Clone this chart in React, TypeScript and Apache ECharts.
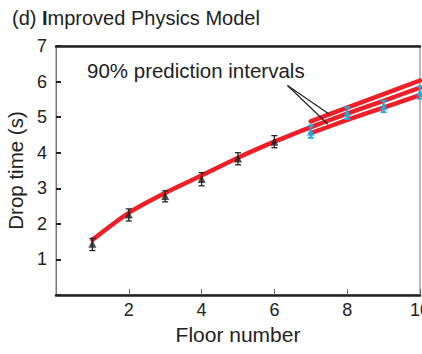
import React, { useEffect, useRef } from "react";
import * as echarts from "echarts";

// Measured drop times (black) for floors 1-6
const floors = [1, 2, 3, 4, 5, 6];
const measured = [1.44, 2.26, 2.78, 3.26, 3.84, 4.31];
const measuredLow = [1.25, 2.08, 2.62, 3.07, 3.66, 4.14];
const measuredHigh = [1.59, 2.42, 2.93, 3.44, 4.0, 4.48];

// Observed drop times (blue) for floors 7-10
const testFloors = [7, 8, 9, 10];
const observed = [4.59, 5.12, 5.31, 5.69];
const observedLow = [4.42, 4.95, 5.14, 5.52];
const observedHigh = [4.76, 5.28, 5.46, 5.86];

// Fitted model curve (floors 1-7)
const fitFloors = [1, 2, 3, 4, 5, 6, 7];
const fitValues = [1.55, 2.31, 2.87, 3.36, 3.86, 4.31, 4.72];

// Prediction and 90% prediction interval (floors 7-10)
const predCenter = [4.72, 5.1, 5.46, 5.83];
const predUpper = [4.88, 5.27, 5.65, 6.03];
const predLower = [4.55, 4.92, 5.27, 5.62];

// Annotation pointer lines (data coordinates)
const pointerA = [[6.36, 5.89], [7.5, 5.09]];
const pointerB = [[6.36, 5.89], [7.47, 4.8]];

const xTicks = [2, 4, 6, 8, 10];
const yTicks = [1, 2, 3, 4, 5, 6, 7];

const RED = "#ee1f26";
const BLUE = "#27a8e0";
const FONT = "Liberation Sans, Arial, sans-serif";

function errorBarSeries(xs: number[], lo: number[], hi: number[], color: string, w: number) {
  return {
    type: "custom",
    data: xs.map((x, i) => [x, lo[i], hi[i]]),
    z: 5,
    renderItem: (params: any, api: any) => {
      const x = api.value(0);
      const top = api.coord([x, api.value(2)]);
      const bot = api.coord([x, api.value(1)]);
      const cw = 3;
      const style = { stroke: color, lineWidth: w };
      return {
        type: "group",
        children: [
          { type: "line", shape: { x1: top[0], y1: top[1], x2: bot[0], y2: bot[1] }, style },
          { type: "line", shape: { x1: top[0] - cw, y1: top[1], x2: top[0] + cw, y2: top[1] }, style },
          { type: "line", shape: { x1: bot[0] - cw, y1: bot[1], x2: bot[0] + cw, y2: bot[1] }, style },
        ],
      };
    },
  };
}

function redLine(xs: number[], ys: number[], smooth: number) {
  return {
    type: "line",
    data: xs.map((x, i) => [x, ys[i]]),
    symbol: "none",
    smooth,
    lineStyle: { color: RED, width: 4.5, cap: "round" },
    z: 3,
  };
}

export default function App() {
  const ref = useRef<HTMLDivElement>(null);
  useEffect(() => {
    if (!ref.current) return;
    const chart = echarts.init(ref.current, undefined, { renderer: "svg" });
    chart.setOption({
      animation: false,
      textStyle: { fontFamily: FONT },
      grid: {
        left: 56,
        right: 2,
        top: 46,
        bottom: 59,
        outerBoundsMode: "none",
        containLabel: false,
        show: true,
        borderColor: "#777",
        borderWidth: 1,
        backgroundColor: "transparent",
      },
      title: {
        text: "(d) {b|I}mproved Physics Model",
        left: 7,
        top: 3,
        textStyle: {
          fontFamily: FONT,
          fontSize: 20,
          fontWeight: "normal",
          color: "#222",
          rich: { b: { fontFamily: FONT, fontSize: 20, fontWeight: "bold", color: "#222" } },
        },
      },
      graphic: [
        {
          type: "text",
          left: 87,
          top: 60,
          style: { text: "90% prediction intervals", fontFamily: FONT, fontSize: 20.5, fill: "#222" },
        },
      ],
      xAxis: [
        {
          type: "value",
          min: 0,
          max: 10,
          interval: 2,
          name: "Floor number",
          nameLocation: "middle",
          nameGap: 15,
          nameTextStyle: { fontFamily: FONT, fontSize: 21, color: "#222", verticalAlign: "top" },
          axisLine: { show: true, lineStyle: { color: "#222", width: 2.5 } },
          axisTick: { show: true, inside: true, length: 6, lineStyle: { color: "#666", width: 1 } },
          axisLabel: {
            fontFamily: FONT,
            fontSize: 18,
            color: "#222",
            margin: 6,
            showMinLabel: false,
            formatter: (v: number) => (xTicks.includes(v) ? String(v) : ""),
          },
          splitLine: { show: false },
        },
        {
          type: "value",
          position: "top",
          min: 0,
          max: 10,
          axisLine: { show: true, lineStyle: { color: "#222", width: 2.5 } },
          axisTick: { show: false },
          axisLabel: { show: false },
          splitLine: { show: false },
        },
      ],
      yAxis: {
        type: "value",
        min: 0,
        max: 7,
        interval: 1,
        name: "Drop time (s)",
        nameLocation: "middle",
        nameGap: 27,
        nameTextStyle: { fontFamily: FONT, fontSize: 20.5, color: "#222" },
        axisLine: { show: true, lineStyle: { color: "#777", width: 1 } },
        axisTick: { show: true, inside: true, length: 5, lineStyle: { color: "#222", width: 2 } },
        axisLabel: {
          fontFamily: FONT,
          fontSize: 18,
          color: "#222",
          margin: 9,
          formatter: (v: number) => (yTicks.includes(v) ? String(v) : ""),
        },
        splitLine: { show: false },
      },
      series: [
        redLine(fitFloors, fitValues, 0.3),
        redLine(testFloors, predCenter, 0.2),
        redLine(testFloors, predUpper, 0.2),
        redLine(testFloors, predLower, 0.2),
        {
          type: "line",
          data: pointerA,
          symbol: "none",
          lineStyle: { color: "#222", width: 1.2 },
          z: 4,
        },
        {
          type: "line",
          data: pointerB,
          symbol: "none",
          lineStyle: { color: "#222", width: 1.2 },
          z: 4,
        },
        errorBarSeries(floors, measuredLow, measuredHigh, "#222", 1.3),
        errorBarSeries(testFloors, observedLow, observedHigh, BLUE, 2),
        {
          type: "scatter",
          data: floors.map((x, i) => [x, measured[i]]),
          symbol: "triangle",
          symbolSize: [8, 8],
          itemStyle: { color: "#222" },
          z: 6,
        },
        {
          type: "scatter",
          data: testFloors.map((x, i) => [x, observed[i]]),
          symbol: "triangle",
          symbolSize: [8, 8],
          itemStyle: { color: BLUE },
          z: 6,
        },
      ],
    });
    return () => chart.dispose();
  }, []);
  return (
    <div
      ref={ref}
      style={{ position: "absolute", left: 0, top: 0, width: 422, height: 354 }}
    />
  );
}
